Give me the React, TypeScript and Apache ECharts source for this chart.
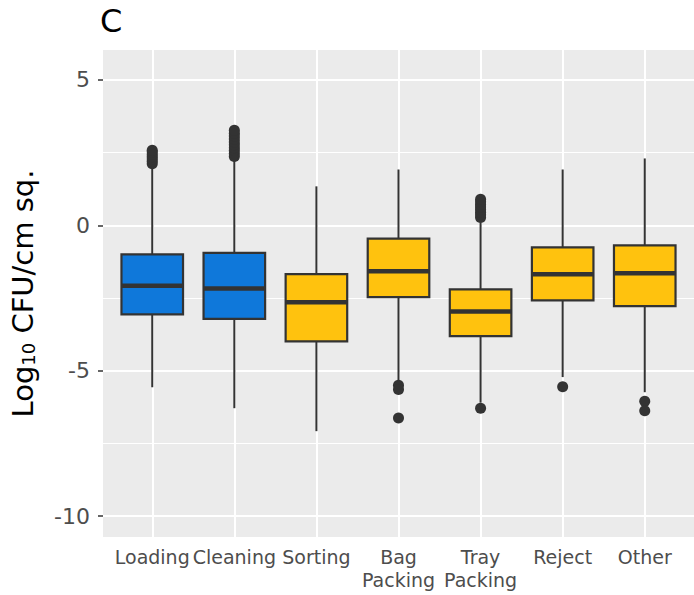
import React, { useEffect, useRef } from 'react';
import * as echarts from 'echarts';

const categories = ['Loading', 'Cleaning', 'Sorting', 'Bag\nPacking', 'Tray\nPacking', 'Reject', 'Other'];
const whiskerLow = [-5.57, -6.29, -7.08, -5.33, -6.1, -5.22, -5.74];
const q1 = [-3.06, -3.22, -3.99, -2.47, -3.81, -2.58, -2.78];
const median = [-2.08, -2.17, -2.65, -1.58, -2.96, -1.68, -1.65];
const q3 = [-1.0, -0.95, -1.68, -0.46, -2.2, -0.76, -0.69];
const whiskerHigh = [2.02, 2.3, 1.34, 1.92, 0.1, 1.92, 2.3];
const outliers = [
  [2.12, 2.2, 2.28, 2.36, 2.44, 2.52, 2.58],
  [2.37, 2.47, 2.57, 2.67, 2.77, 2.87, 2.97, 3.07, 3.17, 3.27],
  [],
  [-5.5, -5.65, -6.63],
  [0.27, 0.36, 0.45, 0.54, 0.63, 0.72, 0.81, 0.9, -6.29],
  [-5.55],
  [-6.05, -6.38],
];
const boxColors = ['#0F78DA', '#0F78DA', '#FFC20E', '#FFC20E', '#FFC20E', '#FFC20E', '#FFC20E'];
const yTicks = [-10, -5, 0, 5];
const yMinor = [-7.5, -2.5, 2.5];
const xTicks = [1, 2, 3, 4, 5, 6, 7];

const FONT = 'DejaVu Sans';

export default function App() {
  const ref = useRef<HTMLDivElement>(null);
  useEffect(() => {
    document.body.style.margin = '0';
    document.body.style.overflow = 'hidden';
    const chart = echarts.init(ref.current!, null, { renderer: 'svg' });
    const boxData = categories.map((c, i) => [i + 1, whiskerLow[i], q1[i], median[i], q3[i], whiskerHigh[i]]);
    const outlierData: number[][] = [];
    outliers.forEach((arr, i) => arr.forEach((v) => outlierData.push([i + 1, v])));

    const renderItem = (params: any, api: any) => {
      const x = api.value(0);
      const lo = api.coord([x, api.value(1)]);
      const b1 = api.coord([x, api.value(2)]);
      const md = api.coord([x, api.value(3)]);
      const b3 = api.coord([x, api.value(4)]);
      const hi = api.coord([x, api.value(5)]);
      const w = api.size([0.75, 0])[0];
      const fill = boxColors[params.dataIndex];
      const stroke = '#333333';
      return {
        type: 'group',
        children: [
          { type: 'line', shape: { x1: lo[0], y1: lo[1], x2: b1[0], y2: b1[1] }, style: { stroke, lineWidth: 2 } },
          { type: 'line', shape: { x1: hi[0], y1: hi[1], x2: b3[0], y2: b3[1] }, style: { stroke, lineWidth: 2 } },
          {
            type: 'rect',
            shape: { x: b3[0] - w / 2, y: b3[1], width: w, height: b1[1] - b3[1] },
            style: { fill, stroke, lineWidth: 2.2 },
          },
          {
            type: 'line',
            shape: { x1: md[0] - w / 2, y1: md[1], x2: md[0] + w / 2, y2: md[1] },
            style: { stroke, lineWidth: 4.5 },
          },
        ],
      };
    };

    const gridLines = [
      ...yTicks.map((v) => ({ yAxis: v, lineStyle: { color: '#FFFFFF', width: 2, type: 'solid' } })),
      ...yMinor.map((v) => ({ yAxis: v, lineStyle: { color: '#FFFFFF', width: 1.1, type: 'solid' } })),
      ...xTicks.map((v) => ({ xAxis: v, lineStyle: { color: '#FFFFFF', width: 2, type: 'solid' } })),
    ];

    chart.setOption({
      animation: false,
      title: {
        text: 'C',
        left: 95,
        top: 0,
        textStyle: { fontFamily: FONT, fontSize: 32, fontWeight: 'normal', color: '#000000' },
      },
      grid: { left: 97, right: 0, top: 50, bottom: 58, show: true, backgroundColor: '#EBEBEB', borderWidth: 0, z: 0 },
      xAxis: {
        type: 'value',
        min: 0.4,
        max: 7.6,
        splitLine: { show: false },
        axisLine: { show: false },
        axisTick: { show: true, length: 5, lineStyle: { color: '#333333', width: 1.5 }, customValues: xTicks },
        axisLabel: {
          customValues: xTicks,
          formatter: (v: number) => categories[Math.round(v) - 1] ?? '',
          fontFamily: FONT,
          fontSize: 19,
          lineHeight: 23,
          color: '#4D4D4D',
          margin: 8,
        },
      },
      yAxis: {
        type: 'value',
        min: -10.72,
        max: 6.03,
        splitLine: { show: false },
        axisLine: { show: false },
        axisTick: { show: true, length: 5, lineStyle: { color: '#333333', width: 1.5 }, customValues: yTicks },
        axisLabel: { customValues: yTicks, fontFamily: FONT, fontSize: 22, color: '#4D4D4D', margin: 13 },
        name: '{a|Log}{s|10}{a| CFU/cm sq.}',
        nameLocation: 'middle',
        nameGap: 66,
        nameRotate: 90,
        nameTextStyle: {
          rich: {
            a: { fontFamily: FONT, fontSize: 29, color: '#000000', verticalAlign: 'bottom', lineHeight: 33 },
            s: { fontFamily: FONT, fontSize: 18, color: '#000000', verticalAlign: 'bottom', lineHeight: 24 },
          },
        },
      },
      series: [
        {
          type: 'line',
          data: [],
          z: 1,
          silent: true,
          markLine: {
            z: 1,
            silent: true,
            symbol: ['none', 'none'],
            label: { show: false },
            data: gridLines,
            animation: false,
          },
        },
        {
          type: 'custom',
          renderItem,
          data: boxData,
          encode: { x: 0, y: [1, 2, 3, 4, 5] },
          z: 3,
        },
        {
          type: 'scatter',
          data: outlierData,
          symbolSize: 11,
          itemStyle: { color: '#333333', opacity: 1 },
          z: 4,
        },
      ],
    });
    return () => chart.dispose();
  }, []);
  return <div ref={ref} style={{ width: 694, height: 595 }} />;
}
